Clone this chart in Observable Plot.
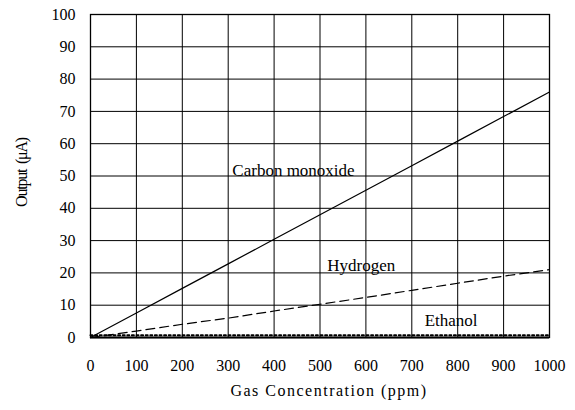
<!DOCTYPE html>
<html><head><meta charset="utf-8">
<script src="https://cdn.jsdelivr.net/npm/d3@7"></script>
<script src="https://cdn.jsdelivr.net/npm/@observablehq/plot@0.6"></script>
<style>body{margin:0;background:#fff}</style>
</head><body><div id="chart"></div>
<script>
const conc = [0,100,200,300,400,500,600,700,800,900,1000];
const carbonMonoxide = [0,7.6,15.2,22.8,30.4,38,45.6,53.2,60.8,68.4,76];
const hydrogen = [0,2,4.1,6,8.2,10.3,12.4,14.6,16.8,19,21];
const ethanol = [0.7,0.7,0.7,0.7,0.7,0.7,0.7,0.7,0.7,0.7,0.7];
const xTicks = [0,100,200,300,400,500,600,700,800,900,1000];
const yTicks = [0,10,20,30,40,50,60,70,80,90,100];
const seriesLabels = [
  {x: 309, y: 51.8, text: "Carbon monoxide"},
  {x: 516, y: 22.2, text: "Hydrogen"},
  {x: 728, y: 5.4, text: "Ethanol"}
];
const xTitle = "Gas Concentration (ppm)";
const yTitle = "Output  (μA)";
const toRows = vals => conc.map((c,i)=>({x:c, y:vals[i]}));
const font = "Liberation Serif, Times New Roman, serif";
const chart = Plot.plot({
  width: 575, height: 410,
  marginLeft: 90, marginRight: 26, marginTop: 14, marginBottom: 73,
  style: {fontFamily: font, fontSize: "16px", background: "#fff", color: "#000"},
  x: {domain: [0,1000]},
  y: {domain: [0,100]},
  marks: [
    Plot.gridX(xTicks, {stroke: "#000", strokeOpacity: 1, strokeWidth: 1}),
    Plot.gridY(yTicks, {stroke: "#000", strokeOpacity: 1, strokeWidth: 1}),
    Plot.frame({stroke: "#000", strokeWidth: 1.3}),
    Plot.ruleY([0], {stroke: "#000", strokeWidth: 2}),
    Plot.axisX(xTicks, {tickSize: 0, tickPadding: 22, fontSize: 16, label: null, fill: "#000", tickFormat: d => String(d)}),
    Plot.axisY(yTicks, {tickSize: 0, tickPadding: 15, fontSize: 16, label: null, fill: "#000", tickFormat: d => String(d)}),
    Plot.text([xTitle], {frameAnchor: "bottom", textAnchor: "middle", lineAnchor: "middle", dx: 9, dy: 53.5, fontSize: 16, fill: "#000"}),
    Plot.text([yTitle], {frameAnchor: "left", textAnchor: "middle", lineAnchor: "middle", rotate: -90, dx: -69, dy: -3.5, fontSize: 16, fill: "#000"}),
    Plot.line(toRows(carbonMonoxide), {x: "x", y: "y", stroke: "#000", strokeWidth: 1.2}),
    Plot.line(toRows(hydrogen), {x: "x", y: "y", stroke: "#000", strokeWidth: 1.2, strokeDasharray: "9,5"}),
    Plot.line(toRows(ethanol), {x: "x", y: "y", stroke: "#000", strokeWidth: 2, strokeDasharray: "2,2.6"}),
    Plot.text(seriesLabels, {x: "x", y: "y", text: "text", textAnchor: "start", fontSize: 17, fill: "#000"})
  ]
});
d3.select(chart).selectAll("text").each(function() {
  const t = this.textContent;
  if (t === xTitle) this.setAttribute("letter-spacing", "1.5");
  if (t === yTitle) this.setAttribute("letter-spacing", "-1.2");
});
document.getElementById("chart").append(chart);
</script></body></html>
